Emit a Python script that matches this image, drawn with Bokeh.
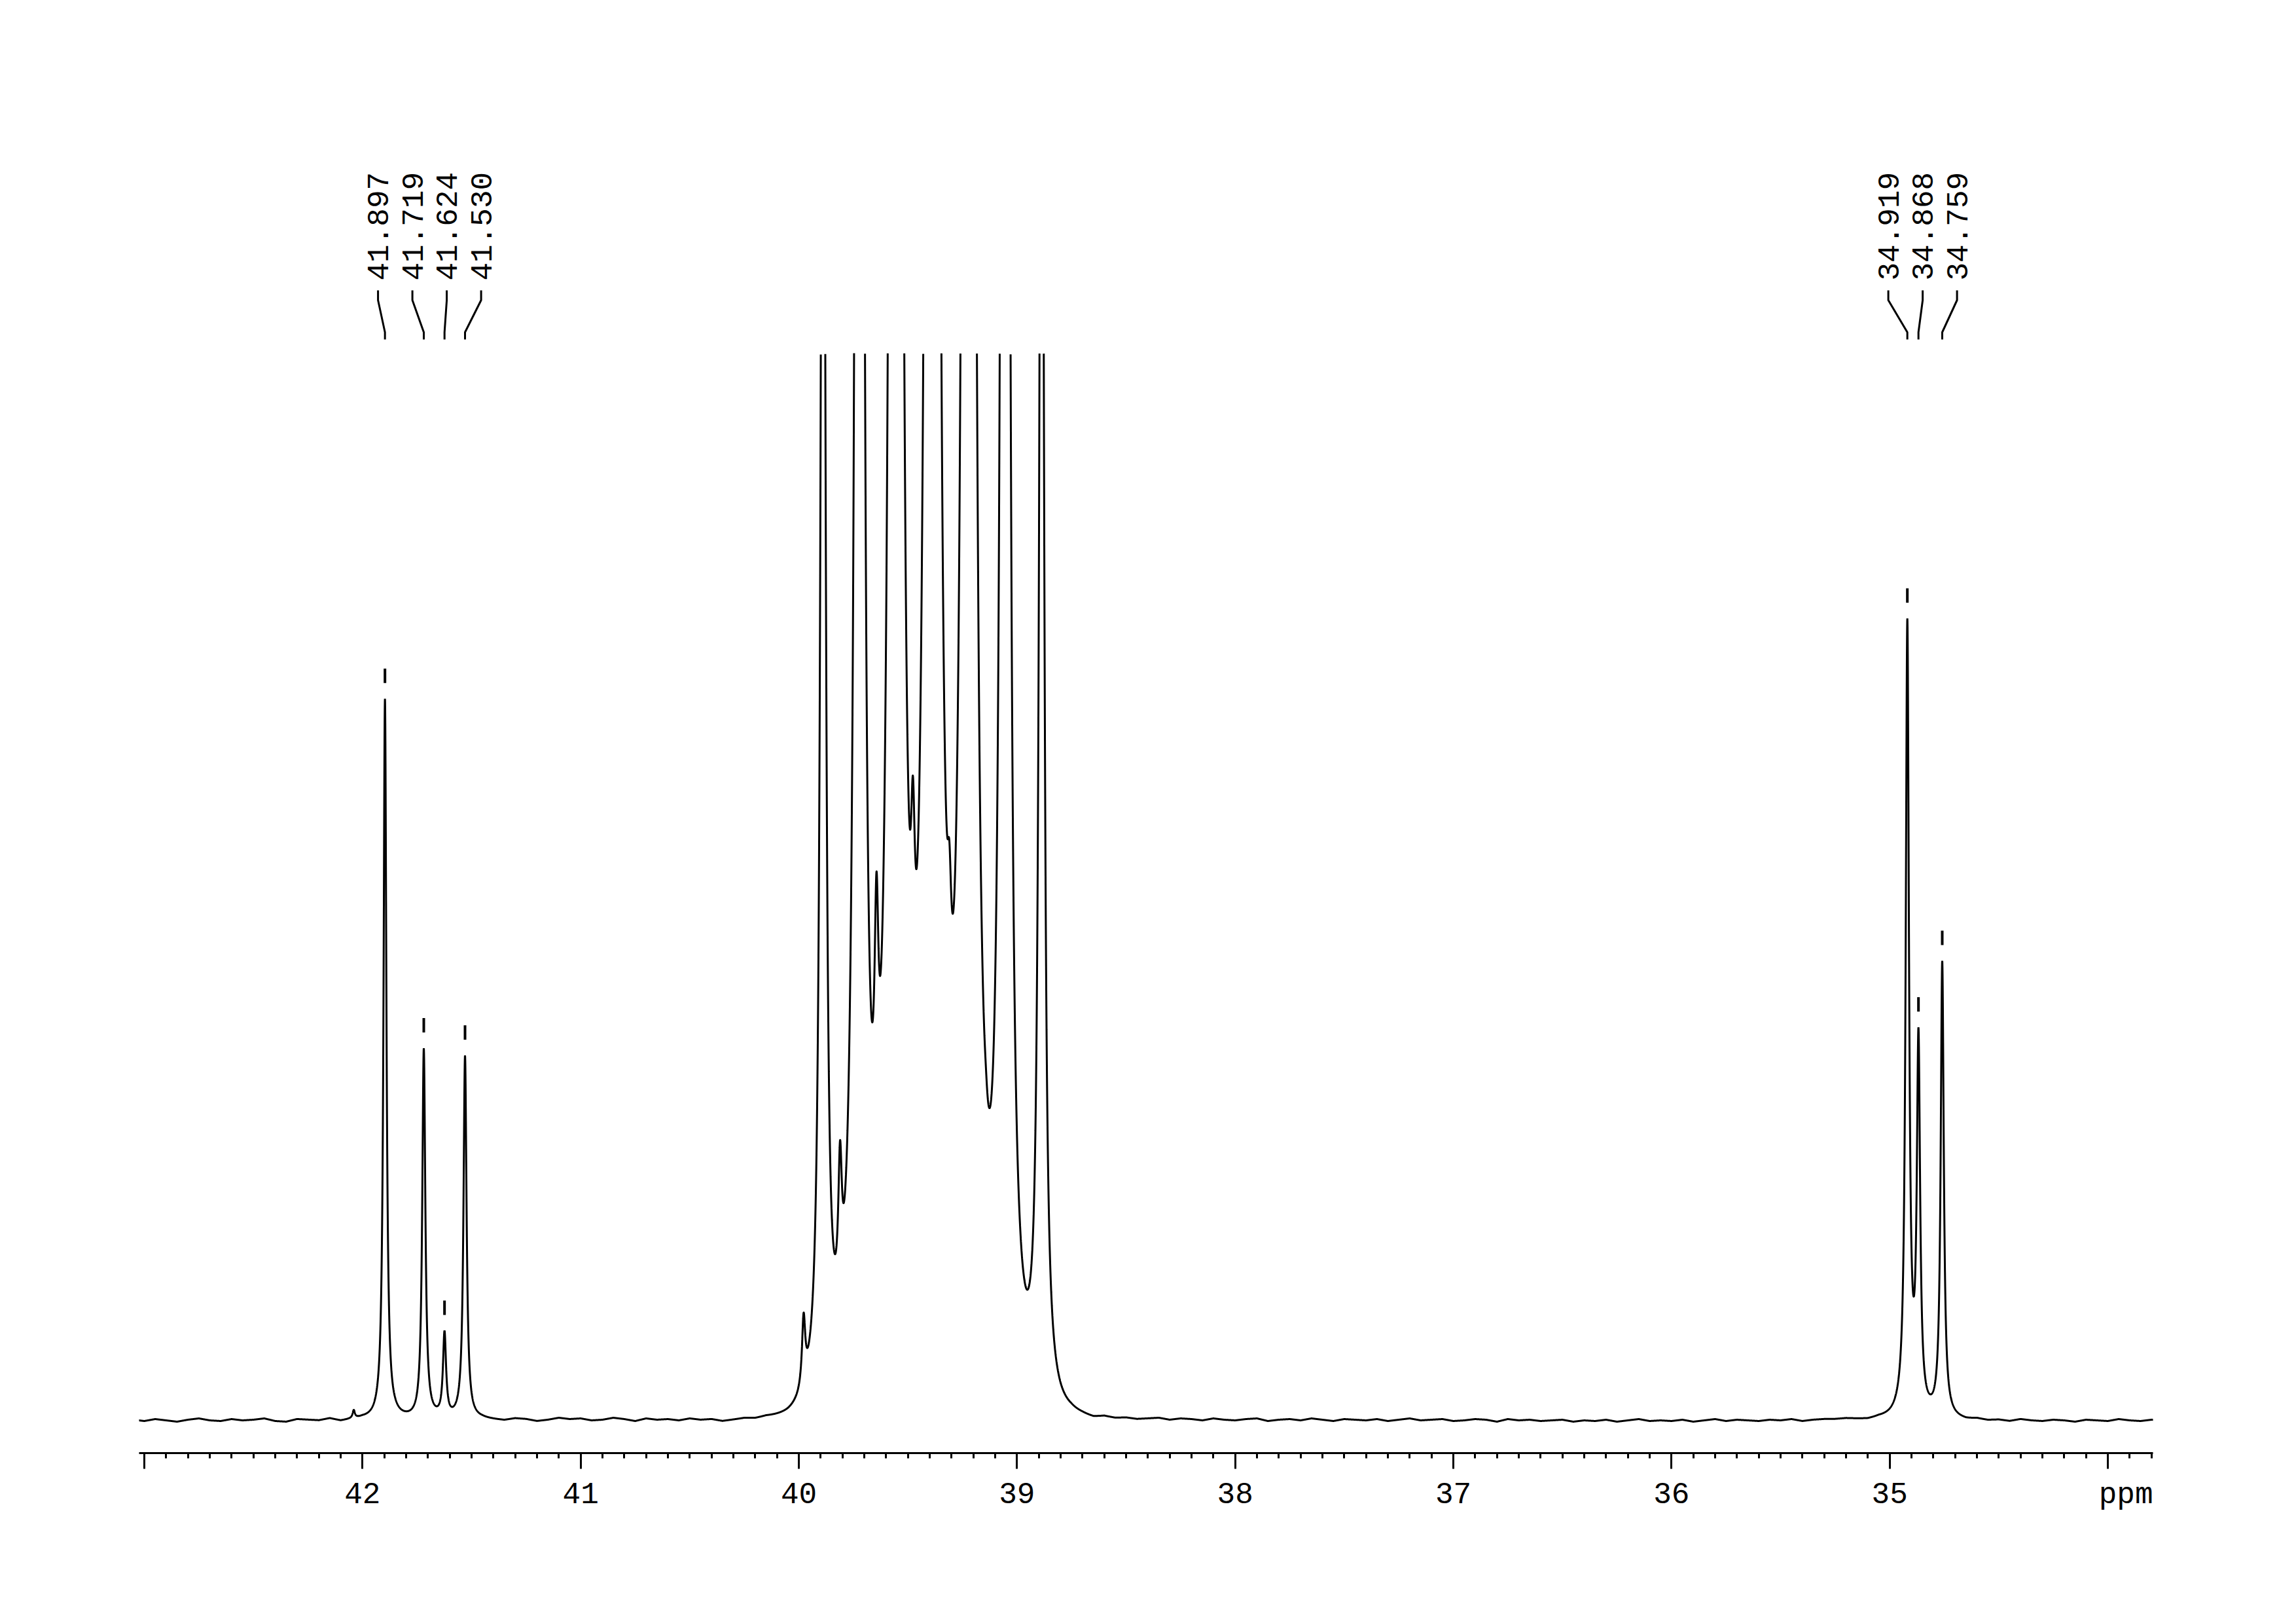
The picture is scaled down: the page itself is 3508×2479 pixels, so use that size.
import numpy as np
from bokeh.plotting import figure
from bokeh.models import Range1d, SingleIntervalTicker
from bokeh.embed import file_html
from bokeh.resources import INLINE
from bokeh.core.properties import value

# ---------------- data ----------------
# labelled peaks (ppm), their labels and heights (px above baseline)
peak_ppm = [41.897, 41.719, 41.624, 41.530, 34.919, 34.868, 34.759]
peak_labels = ["41.897", "41.719", "41.624", "41.530", "34.919", "34.868", "34.759"]
peak_group = [0, 0, 0, 0, 1, 1, 1]
peak_amp = [1102, 564, 128, 554, 1205, 560, 693]
peak_hwhm = [0.0080, 0.0085, 0.0085, 0.0085, 0.0090, 0.0090, 0.0085]

# DMSO-d6 septet (clipped at the top)
solvent_ppm = [39.889, 39.722, 39.555, 39.388, 39.221, 39.054, 38.887]
solvent_amp = [2750, 8250, 16500, 19250, 16500, 8250, 2750]
solvent_hwhm = [0.012, 0.012, 0.012, 0.012, 0.012, 0.012, 0.0115]

# weak lines sitting between the septet lines
minor_ppm = [39.978, 39.811, 39.644, 39.477, 39.310, 39.143, 38.976]
minor_amp = [105, 210, 360, 280, 165, 20, 0]
minor_hwhm = [0.009, 0.010, 0.011, 0.011, 0.011, 0.010, 0.010]

# tiny impurity line
small_ppm = [42.04]
small_amp = [12]
small_hwhm = [0.006]

# baseline wiggle, px, every 0.05 ppm from 43.05 ppm downwards
baseline_noise = [
    0, -2, 1, -1, -3, 0, 2, -1, -2, 1,
    -1, 0, 2, -2, -3, 1, 0, -1, 2, -2,
    0, 1, -1, -2, 1, 0, -1, 1, 0, -1,
    1, 0, 1, 0, -1, 2, 1, -2, 0, 3,
    1, 2, -1, 0, 3, 1, -2, 2, 0, 1,
    -1, 2, 0, 1, -2, 0, 2, 1, 3, 2,
    1, 2, 2, 1, 2, 1, 2, 1, 2, 1,
    1, 2, 1, 2, 1, 2, 1, 2, 1, 2,
    2, 1, 2, 1, 2, 2, 4, 3, 1, 4,
    2, 3, 1, 2, 3, 0, 2, 1, -1, 2,
    0, -1, 1, 2, -2, 0, 1, -1, 2, 0,
    -2, 1, 0, -1, 1, -2, 0, 2, -1, 0,
    1, -2, -1, 1, 0, -3, 1, -1, 0, -2,
    -1, 0, -3, -1, -2, 0, -3, -1, 1, -2,
    -1, -2, 0, -3, -1, 1, -2, 0, -1, -2,
    0, -1, 1, -2, 0, 1, 1, 2, 1, 0,
    2, 1, 1, 1, 0, 1, 2, 0, -1, 1,
    -1, 0, -2, 1, -1, -2, 0, -1, -3, 0,
    -1, -2, 1, -1, -2, 0, -1, -3, -1, 0,
]

clip_level = 1629          # px above baseline where the trace is cut

# ---------------- build the trace ----------------
def shape(x, x0, a, g):
    d = x - x0
    return a * g * g / (d * d + g * g) * np.exp(-(d / 0.3) ** 2)

noise_ppm = 43.05 - 0.05 * np.arange(len(baseline_noise))

def spectrum(x):
    y = np.interp(x, noise_ppm[::-1], np.array(baseline_noise, float)[::-1])
    for pp, aa, gg in ((peak_ppm, peak_amp, peak_hwhm),
                       (solvent_ppm, solvent_amp, solvent_hwhm),
                       (minor_ppm, minor_amp, minor_hwhm),
                       (small_ppm, small_amp, small_hwhm)):
        for x0, a, g in zip(pp, aa, gg):
            y = y + shape(x, x0, a, g)
    return y

xs = np.concatenate([np.arange(33.79, 38.75, 0.0005),
                     np.arange(38.75, 40.06, 0.00002),
                     np.arange(40.06, 43.03, 0.0005)])
ys = spectrum(xs)
ys = np.where(ys > clip_level, np.nan, ys)

# ---------------- figure ----------------
W, H = 3490, 2460
p = figure(width=W, height=H, output_backend="svg", toolbar_location=None,
           x_range=Range1d(43.024, 33.793), y_range=Range1d(-51, 1960),
           y_axis_location=None, min_border_left=212, min_border_right=201,
           min_border_top=208, min_border_bottom=241, background_fill_color="white",
           border_fill_color="white")
p.outline_line_color = None
p.xgrid.visible = False
p.ygrid.visible = False

p.line(xs, ys, line_color="black", line_width=3)

# peak tick marks
tops = spectrum(np.array(peak_ppm))
p.segment(x0=peak_ppm, y0=tops + 24, x1=peak_ppm, y1=tops + 46,
          line_color="black", line_width=4)

# labels fanned out above each group
label_x = []
for g in sorted(set(peak_group)):
    members = [pp for pp, gg in zip(peak_ppm, peak_group) if gg == g]
    centre = sum(members) / len(members)
    n = len(members)
    for k in range(n):
        label_x.append(centre + (n - 1) / 2 * 0.1575 - k * 0.1575)

conn_xs = [[lx, lx, px, px] for lx, px in zip(label_x, peak_ppm)]
conn_ys = [[1725, 1710, 1661, 1650] for _ in peak_ppm]
p.multi_line(conn_xs, conn_ys, line_color="black", line_width=3)

p.text(x=label_x, y=[1740] * len(label_x), text=peak_labels, angle=np.pi / 2,
       text_align="left", text_baseline="middle", text_color="black",
       text_font=value("Liberation Mono"), text_font_size="46px")

# axis
ax = p.xaxis[0]
ax.ticker = SingleIntervalTicker(interval=1, num_minor_ticks=10)
ax.major_label_overrides = {43: "", 34: "\u00a0\u00a0ppm"}
ax.axis_line_width = 3
ax.axis_line_color = "black"
ax.major_tick_line_width = 3
ax.minor_tick_line_width = 3
ax.major_tick_in = 0
ax.major_tick_out = 24
ax.minor_tick_in = 0
ax.minor_tick_out = 8
ax.major_label_standoff = 14
ax.major_label_text_font = "Liberation Mono"
ax.major_label_text_font_size = "46px"
ax.major_label_text_color = "black"

open("out.html", "w").write(file_html(p, INLINE))
